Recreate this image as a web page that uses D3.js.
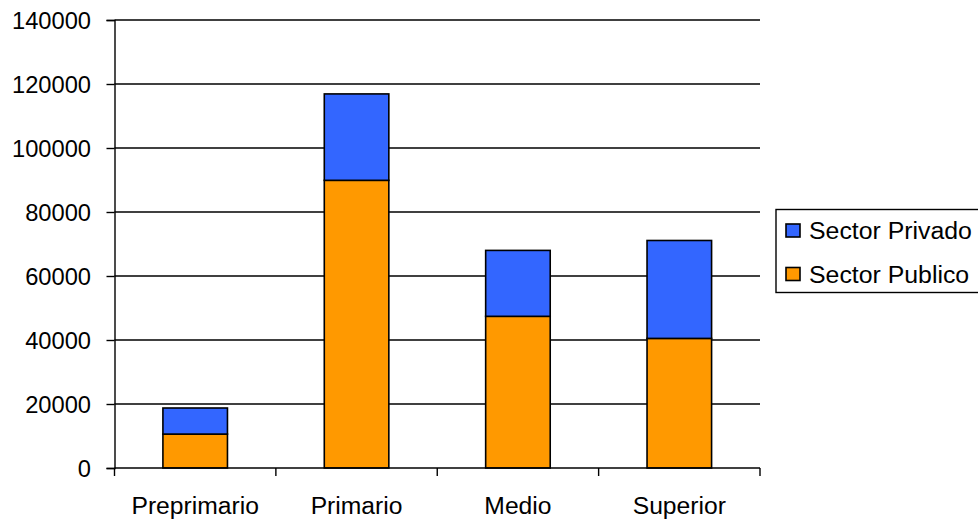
<!DOCTYPE html>
<html>
<head>
<meta charset="utf-8">
<script src="https://cdn.jsdelivr.net/npm/d3@7"></script>
<style>
  body { margin: 0; background: #fff; }
  svg { display: block; font-family: "Liberation Sans", Arial, sans-serif; }
</style>
</head>
<body>
<svg id="chart" width="978" height="519"></svg>
<script>
// ===== DATA =====
const categories = ['Preprimario', 'Primario', 'Medio', 'Superior'];
const sectorPublico = [10600, 89900, 47400, 40500];
const sectorPrivado = [8150, 27000, 20600, 30600];
const yTicks = [0, 20000, 40000, 60000, 80000, 100000, 120000, 140000];
const seriesNames = ['Sector Privado', 'Sector Publico'];
const seriesColors = { 'Sector Publico': '#FF9900', 'Sector Privado': '#3366FF' };

// the original text is a little wider than Liberation Sans
function stretch(sel, k) {
    sel.each(function () {
        const len = this.getComputedTextLength();
        d3.select(this).attr('textLength', len * k).attr('lengthAdjust', 'spacingAndGlyphs');
    });
}

const svg = d3.select('#chart');
const X0 = 114.5, X1 = 760;

const x = d3.scaleBand()
    .domain(categories)
    .range([X0, X1])
    .paddingInner(0.6)
    .paddingOuter(0.3);

const y = d3.scaleLinear()
    .domain([0, 140000])
    .range([468, 20]);

// gridlines
svg.append('g')
    .selectAll('line')
    .data(yTicks.filter(d => d > 0))
    .join('line')
    .attr('x1', X0).attr('x2', X1)
    .attr('y1', d => y(d)).attr('y2', d => y(d))
    .attr('stroke', '#000').attr('stroke-width', 1.4);

// stacked bars
const rows = categories.map((c, i) => ({ cat: c, 'Sector Publico': sectorPublico[i], 'Sector Privado': sectorPrivado[i] }));
const stack = d3.stack().keys(['Sector Publico', 'Sector Privado'])(rows);

svg.append('g')
    .selectAll('g')
    .data(stack)
    .join('g')
    .attr('fill', d => seriesColors[d.key])
    .selectAll('rect')
    .data(d => d)
    .join('rect')
    .attr('x', d => x(d.data.cat))
    .attr('width', x.bandwidth())
    .attr('y', d => y(d[1]))
    .attr('height', d => y(d[0]) - y(d[1]))
    .attr('stroke', '#000')
    .attr('stroke-width', 1.6);

// y axis
const yAxis = svg.append('g')
    .attr('transform', `translate(${X0},0)`)
    .call(d3.axisLeft(y).tickValues(yTicks).tickSize(8).tickPadding(15.5).tickFormat(d3.format('d')));
yAxis.select('.domain').attr('stroke', '#000').attr('stroke-width', 1.4);
yAxis.selectAll('.tick line').attr('stroke', '#000').attr('stroke-width', 1.4);
yAxis.selectAll('.tick text')
    .attr('font-size', 23)
    .attr('font-family', '"Liberation Sans", Arial, sans-serif')
    .attr('fill', '#000')
    .attr('dy', '0.36em')
    .call(stretch, 1.03);

// x axis
const xAxis = svg.append('g')
    .attr('transform', 'translate(0,468)')
    .call(d3.axisBottom(x).tickSize(0).tickPadding(0));
xAxis.select('.domain').attr('d', `M${X0},0H${X1}`).attr('stroke', '#000').attr('stroke-width', 1.4);
xAxis.selectAll('.tick text')
    .attr('font-size', 23.5)
    .attr('font-family', '"Liberation Sans", Arial, sans-serif')
    .attr('fill', '#000')
    .attr('y', 46)
    .attr('dy', 0)
    .call(stretch, 1.05);

// ticks sit between categories, not under them
const bounds = d3.range(categories.length + 1).map(i => X0 + i * (X1 - X0) / categories.length);
xAxis.append('g')
    .selectAll('line')
    .data(bounds)
    .join('line')
    .attr('x1', d => d).attr('x2', d => d)
    .attr('y1', 0).attr('y2', 8)
    .attr('stroke', '#000').attr('stroke-width', 1.4);

// legend
const legend = svg.append('g');
legend.append('rect')
    .attr('x', 776).attr('y', 209.5)
    .attr('width', 230).attr('height', 83)
    .attr('fill', '#fff').attr('stroke', '#000').attr('stroke-width', 1.4);

const items = legend.selectAll('g.item')
    .data(seriesNames)
    .join('g')
    .attr('class', 'item')
    .attr('transform', (d, i) => `translate(0,${i * 43.5})`);

items.append('rect')
    .attr('x', 786).attr('y', 224)
    .attr('width', 14).attr('height', 13)
    .attr('fill', d => seriesColors[d])
    .attr('stroke', '#000').attr('stroke-width', 1.6);

items.append('text')
    .attr('x', 809).attr('y', 239)
    .attr('font-size', 23)
    .attr('fill', '#000')
    .text(d => d)
    .call(stretch, 1.08);
</script>
</body>
</html>
